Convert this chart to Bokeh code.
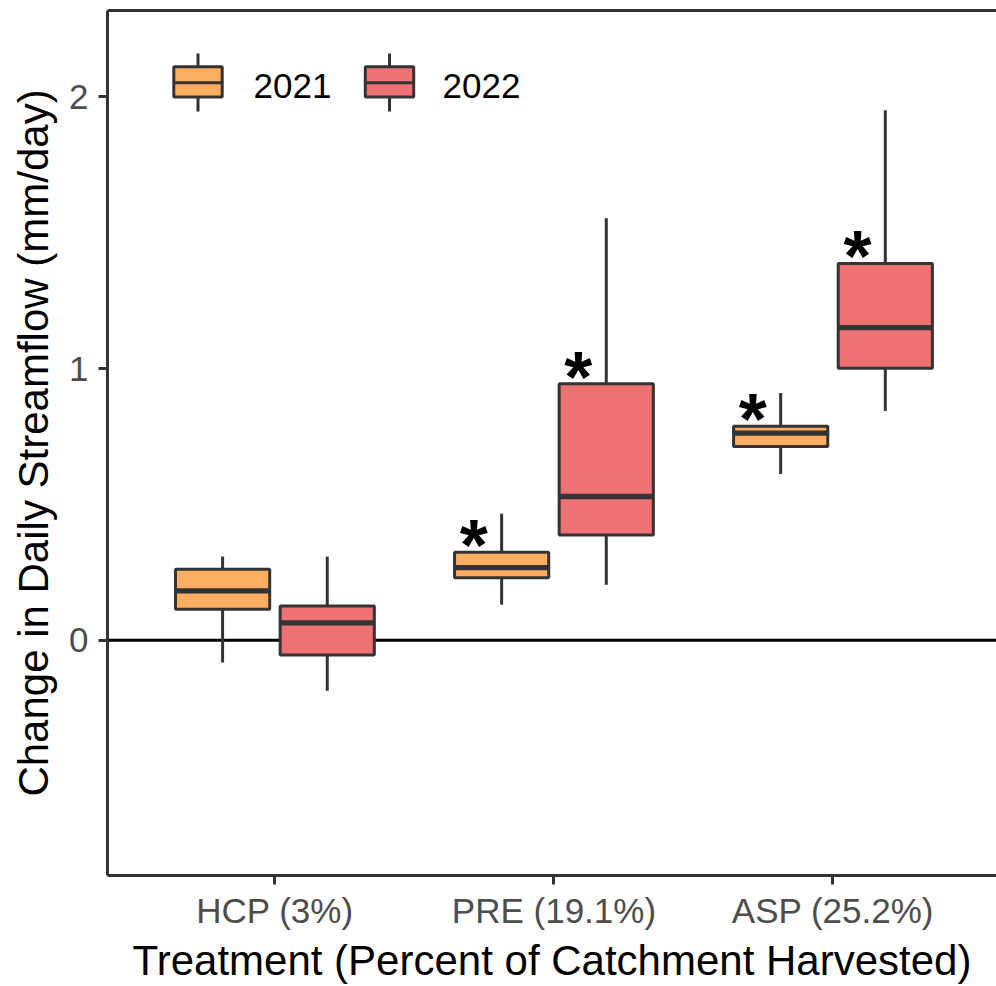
from bokeh.plotting import figure
from bokeh.models import Range1d, FixedTicker, Span, ColumnDataSource, LinearAxis
from bokeh.core.properties import value
from bokeh.embed import file_html
from bokeh.resources import INLINE

# ---------------- data ----------------
categories = ["HCP (3%)", "PRE (19.1%)", "ASP (25.2%)"]
years = ["2021", "2022"]
year_colors = ["#FDAE61", "#EE7274"]

low_2021 = [-0.082, 0.131, 0.612]
q1_2021 = [0.114, 0.230, 0.713]
med_2021 = [0.182, 0.267, 0.762]
q3_2021 = [0.261, 0.324, 0.788]
high_2021 = [0.308, 0.466, 0.910]
sig_2021 = [False, True, True]

low_2022 = [-0.186, 0.204, 0.844]
q1_2022 = [-0.054, 0.387, 1.001]
med_2022 = [0.064, 0.529, 1.151]
q3_2022 = [0.126, 0.944, 1.387]
high_2022 = [0.308, 1.553, 1.951]
sig_2022 = [False, True, True]

y_ticks = [0, 1, 2]

# ---------------- layout / style ----------------
W, H = 996, 986
BL, BT, BB, BR = 107, 10, 110, 0
X_START, X_END = 0.4, 3.586
Y_END = 2.318
Y_START = -0.866
DODGE = 0.1875
BOX_W = 0.3375
FONT = "Liberation Sans"
DARK = "#333333"
LW = 3

p = figure(width=W, height=H, output_backend="svg", toolbar_location=None,
           x_range=Range1d(X_START, X_END), y_range=Range1d(Y_START, Y_END),
           min_border_left=BL, min_border_top=BT, min_border_bottom=BB,
           min_border_right=BR, background_fill_color="white",
           border_fill_color="white")
p.outline_line_color = None
p.xgrid.visible = False
p.ygrid.visible = False

zero = Span(location=0, dimension="width", line_color="black", line_width=3,
            level="underlay")
p.add_layout(zero)

series = [
    (low_2021, q1_2021, med_2021, q3_2021, high_2021, sig_2021, -DODGE, year_colors[0]),
    (low_2022, q1_2022, med_2022, q3_2022, high_2022, sig_2022, DODGE, year_colors[1]),
]

for low, q1, med, q3, high, sig, off, col in series:
    xs = [i + 1 + off for i in range(len(categories))]
    src = ColumnDataSource(dict(
        x=xs, low=low, q1=q1, med=med, q3=q3, high=high,
        left=[x - BOX_W / 2 for x in xs], right=[x + BOX_W / 2 for x in xs]))
    p.segment(x0="x", y0="q3", x1="x", y1="high", source=src,
              line_color=DARK, line_width=LW)
    p.segment(x0="x", y0="low", x1="x", y1="q1", source=src,
              line_color=DARK, line_width=LW)
    p.vbar(x="x", bottom="q1", top="q3", width=BOX_W, source=src,
           fill_color=col, line_color=DARK, line_width=LW)
    p.segment(x0="left", y0="med", x1="right", y1="med", source=src,
              line_color=DARK, line_width=5.3, line_cap="butt")
    sx = [x - 0.1 for x, s in zip(xs, sig) if s]
    sy = [v for v, s in zip(q3, sig) if s]
    p.text(x=sx, y=sy, text=["*"] * len(sx), text_font=value(FONT),
           text_font_style="bold", text_font_size="72px", text_color="black",
           text_align="center", text_baseline="middle", y_offset=-7)

# ---------------- legend (drawn manually) ----------------
px_per_x = (W - BL - BR) / (X_END - X_START)
px_per_y = (H - BT - BB) / (Y_END - Y_START)

def px_to_x(px):
    return X_START + (px - BL) / px_per_x

def py_to_y(py):
    return Y_END - (py - BT) / px_per_y

key_cx = [197.5, 389.0]
label_px = [253.0, 442.0]
for cx, lx, col, yr in zip(key_cx, label_px, year_colors, years):
    p.segment(x0=[px_to_x(cx)], y0=[py_to_y(53)], x1=[px_to_x(cx)], y1=[py_to_y(111)],
              line_color=DARK, line_width=LW)
    p.quad(left=[px_to_x(cx - 24.2)], right=[px_to_x(cx + 24.2)],
           bottom=[py_to_y(96.7)], top=[py_to_y(66.3)],
           fill_color=col, line_color=DARK, line_width=LW)
    p.segment(x0=[px_to_x(cx - 24.2)], y0=[py_to_y(82.4)], x1=[px_to_x(cx + 24.2)],
              y1=[py_to_y(82.4)], line_color=DARK, line_width=LW)
    p.text(x=[px_to_x(lx)], y=[py_to_y(85.5)], text=[yr], text_font=value(FONT),
           text_font_size="35px", text_color="black", text_align="left",
           text_baseline="middle")

# ---------------- axes ----------------
for ax in (p.xaxis[0], p.yaxis[0]):
    ax.axis_line_color = DARK
    ax.axis_line_width = LW
    ax.major_tick_line_color = DARK
    ax.major_tick_line_width = LW
    ax.major_tick_in = 0
    ax.major_tick_out = 9
    ax.minor_tick_line_color = None
    ax.major_label_text_font = FONT
    ax.major_label_text_font_size = "35px"
    ax.major_label_text_color = "#4D4D4D"
    ax.axis_label_text_font = FONT
    ax.axis_label_text_font_size = "42px"
    ax.axis_label_text_font_style = "normal"
    ax.axis_label_text_color = "black"

p.xaxis.ticker = FixedTicker(ticks=[1, 2, 3])
p.xaxis.major_label_overrides = {i + 1: c for i, c in enumerate(categories)}
p.xaxis.axis_label = "Treatment (Percent of Catchment Harvested)"
p.xaxis.major_label_standoff = 6
p.xaxis.axis_label_standoff = 4
p.xaxis.axis_label_text_line_height = 1.0
p.xaxis.major_label_text_line_height = 1.0

p.yaxis.ticker = FixedTicker(ticks=y_ticks)
p.yaxis.axis_label = "Change in Daily Streamflow (mm/day)"
p.yaxis.major_label_standoff = 10
p.yaxis.axis_label_standoff = 9

top_axis = LinearAxis(ticker=FixedTicker(ticks=[]), axis_line_color=DARK,
                      axis_line_width=LW, major_tick_line_color=None,
                      minor_tick_line_color=None, major_label_text_font_size="0px",
                      major_label_standoff=0, axis_label_standoff=0)
p.add_layout(top_axis, "above")

open("out.html", "w").write(file_html(p, INLINE))
